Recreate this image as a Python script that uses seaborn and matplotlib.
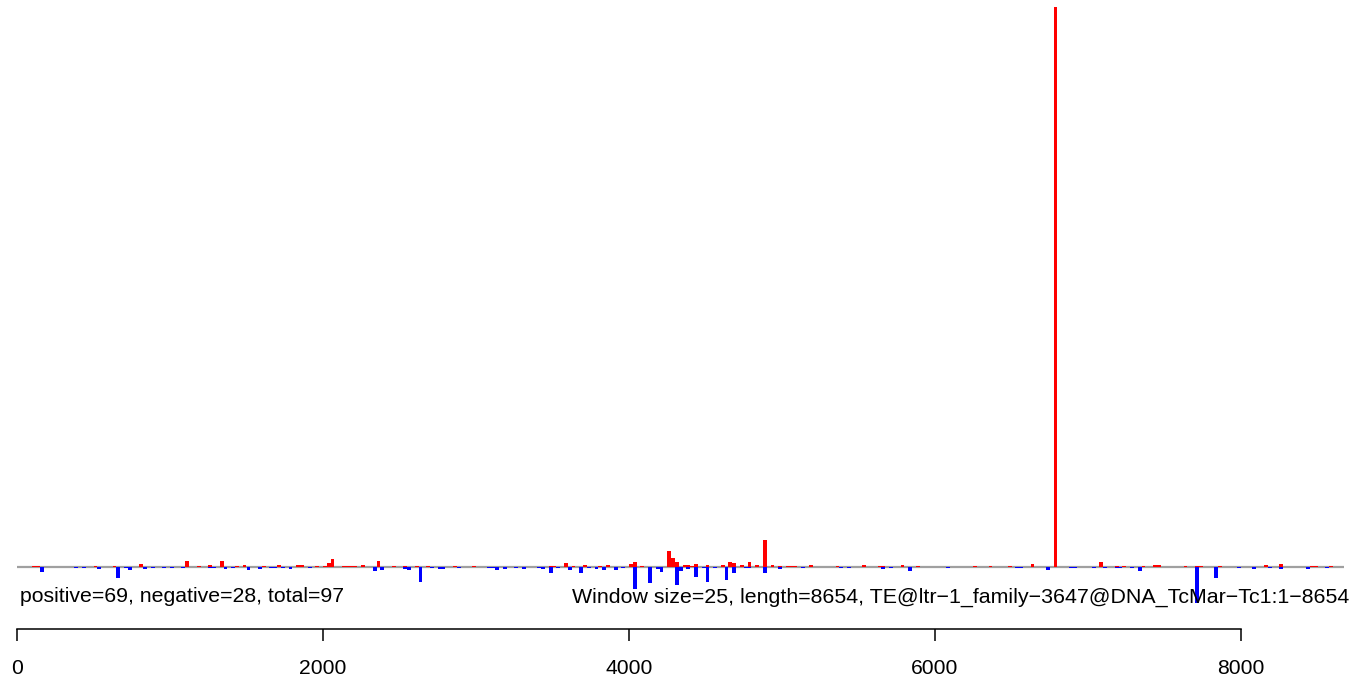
import numpy as np
import pandas as pd
import matplotlib
matplotlib.use("Agg")
import matplotlib.pyplot as plt
import seaborn as sns

WINDOW = 25
LENGTH = 8654

# window start (bp) and signal for the positive strand (red, drawn upward)
pos_start = [100, 125, 500, 625, 800, 1100, 1175, 1250, 1325, 1425, 1475, 1600, 1700,
             1825, 1850, 1950, 2000, 2025, 2050, 2125, 2150, 2175, 2200, 2250, 2350,
             2450, 2525, 2600, 2675, 2850, 2975, 3475, 3500, 3575, 3625, 3700, 3800,
             3850, 4000, 4025, 4075, 4250, 4275, 4300, 4350, 4375, 4400, 4425, 4500,
             4600, 4650, 4675, 4725, 4775, 4825, 4875, 4925, 4975, 5025, 5050, 5075,
             5175, 5350, 5525, 5625, 5650, 5775, 5875, 6250, 6350, 6475, 6625, 6775,
             7075, 7175, 7225, 7350, 7425, 7450, 7625, 7700, 7725, 7850, 8150, 8250,
             8450, 8475, 8575]
pos_value = [1, 1, 1, 1, 3, 6, 1, 2, 6, 1, 2, 1, 2,
             2, 2, 1, 1, 4, 8, 1, 1, 1, 1, 2, 6,
             1, 1, 1, 1, 1, 1, 1, 1, 4, 1, 2, 1,
             2, 3, 5, 1, 16, 9, 5, 2, 2, 1, 3, 2,
             2, 5, 4, 2, 5, 2, 27, 2, 1, 1, 1, 1,
             2, 1, 2, 1, 1, 2, 1, 1, 1, 1, 3, 560,
             5, 1, 1, 1, 2, 2, 1, 1, 1, 1, 2, 3,
             1, 1, 1]

# window start (bp) and signal for the negative strand (blue, drawn downward)
neg_start = [150, 375, 425, 525, 650, 700, 725, 825, 875, 950, 1000, 1075, 1250, 1275,
             1350, 1400, 1500, 1575, 1650, 1675, 1725, 1775, 1900, 2325, 2375, 2525,
             2550, 2625, 2700, 2750, 2775, 2875, 3075, 3100, 3125, 3175, 3250, 3300,
             3400, 3425, 3475, 3525, 3600, 3675, 3725, 3775, 3825, 3900, 3950, 4025,
             4125, 4175, 4200, 4300, 4325, 4375, 4425, 4475, 4500, 4550, 4625, 4675,
             4750, 4775, 4875, 4975, 5125, 5375, 5425, 5650, 5700, 5825, 6075, 6525,
             6550, 6725, 6875, 6900, 7025, 7100, 7175, 7200, 7275, 7325, 7700, 7825,
             7975, 8075, 8175, 8250, 8425, 8550]
neg_value = [-5, -1, -1, -2, -11, -1, -3, -2, -1, -1, -1, -1, -1, -1,
             -2, -1, -3, -2, -1, -1, -1, -2, -1, -4, -3, -2,
             -3, -15, -1, -2, -2, -1, -1, -1, -3, -2, -1, -2,
             -1, -2, -6, -1, -3, -6, -1, -2, -3, -3, -1, -22,
             -16, -2, -5, -18, -4, -2, -10, -1, -15, -1, -13, -6,
             -1, -1, -6, -2, -1, -1, -1, -2, -1, -4, -1, -1,
             -1, -3, -1, -1, -1, -1, -1, -1, -1, -4, -36, -11,
             -1, -2, -1, -2, -2, -1]

x_ticks = [0, 2000, 4000, 6000, 8000]
left_label = "positive=69, negative=28, total=97"
right_label = ("Window size=25, length=8654, "
               "TE@ltr\u22121_family\u22123647@DNA_TcMar\u2212Tc1:1\u22128654")

sns.set_style("white")
plt.rcParams['font.family'] = ['Liberation Sans', 'DejaVu Sans']

W, H = 1352, 679
fig = plt.figure(figsize=(W / 100, H / 100), dpi=100)

x0_px = 17.0
px_per_bp = 1224.0 / 8000.0
xmin = -x0_px / px_per_bp
xmax = (W - x0_px) / px_per_bp

n_win = int(np.ceil(LENGTH / WINDOW))
end_bp = n_win * WINDOW

pos_df = pd.DataFrame({"start": pos_start, "value": pos_value})
neg_df = pd.DataFrame({"start": neg_start, "value": neg_value})

ax = fig.add_axes([0, (H - 604) / H, 1, (604 - 7) / H])
ax.hlines(0, 0, end_bp, color='#A0A0A0', lw=1.6, zorder=1)
sns.histplot(data=pos_df, x="start", weights="value", binwidth=WINDOW,
             binrange=(0, end_bp), color='#FF0000', alpha=1, linewidth=0,
             ax=ax, zorder=2)
sns.histplot(data=neg_df, x="start", weights="value", binwidth=WINDOW,
             binrange=(0, end_bp), color='#0000FF', alpha=1, linewidth=0,
             ax=ax, zorder=2)
ax.set_xlim(xmin, xmax)
ax.set_ylim(-37, 560)
ax.set_axis_off()

ax2 = fig.add_axes([0, (H - 628.5) / H, 1, 0.02])
ax2.set_xlim(xmin, xmax)
ax2.set_yticks([])
for s in ['left', 'right', 'top']:
    ax2.spines[s].set_visible(False)
ax2.spines['bottom'].set_bounds(0, 8000)
ax2.spines['bottom'].set_linewidth(1.1)
ax2.spines['bottom'].set_color('black')
ax2.patch.set_alpha(0)
ax2.set_xticks(x_ticks)
ax2.set_xticklabels([str(t) for t in x_ticks])
ax2.tick_params(axis='x', direction='out', length=8.6, width=1.1, color='black',
                labelsize=15.2, pad=13, labelcolor='black', bottom=True)

fig.text(20 / W, 1 - 597 / H, left_label, ha='left', va='center',
         fontsize=15.3, color='black')
fig.text(1349 / W, 1 - 597 / H, right_label, ha='right', va='center',
         fontsize=15.4, color='black')

fig.savefig("out.png", dpi=100)
